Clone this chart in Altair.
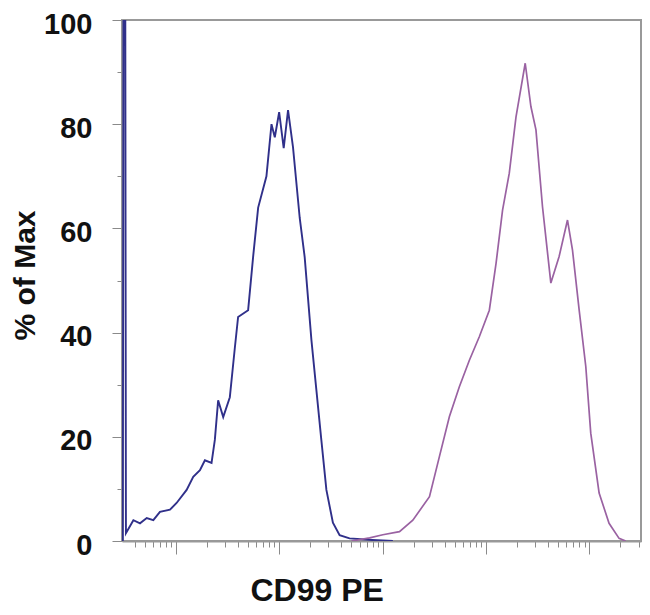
import math
import altair as alt
import pandas as pd

# Blue histogram (x in decade units, y in % of max)
blue_x = [-0.012, -0.006, 0.012, 0.018, 0.09, 0.154, 0.219, 0.283, 0.347, 0.444,
          0.508, 0.605, 0.669, 0.734, 0.782, 0.846, 0.878, 0.910, 0.959, 1.023,
          1.071, 1.103, 1.200, 1.248, 1.297, 1.377, 1.426, 1.458, 1.500, 1.544,
          1.586, 1.634, 1.699, 1.747, 1.812, 1.860, 1.908, 1.957, 2.020, 2.085,
          2.181, 2.4, 2.6]
blue_y = [0, 100, 100, 1.5, 4, 3.4, 4.4, 4.0, 5.6, 6.0,
          7.3, 9.8, 12.3, 13.6, 15.5, 15, 19.4, 27, 23.8, 27.6,
          37, 43, 44.3, 54.5, 64, 70, 80, 77.5, 82.3, 75.4,
          82.7, 75.6, 62, 54.5, 38.6, 29, 19.4, 9.8, 3.5, 1.1,
          0.5, 0.2, 0]

# Magenta histogram
mag_x = [2.2, 2.375, 2.503, 2.664, 2.793, 2.954, 3.050, 3.147, 3.243, 3.340,
         3.436, 3.533, 3.598, 3.661, 3.726, 3.791, 3.880, 3.935, 3.984, 4.047,
         4.128, 4.208, 4.289, 4.337, 4.402, 4.466, 4.514, 4.595, 4.691, 4.788,
         4.852]
mag_y = [0, 0.6, 1.2, 1.8, 4.0, 8.5, 16.2, 23.9, 29.6, 34.7,
         39.2, 44.3, 53.3, 63.5, 70.6, 81.4, 91.7, 83.4, 78.9, 64.2,
         49.5, 54.6, 61.6, 55.9, 44.3, 33.5, 20.7, 9.2, 3.4, 0.5,
         0]

# Axis ticks
x_major = [0.5, 1.5, 2.5, 3.5, 4.5]
x_minor_steps = [2, 3, 4, 5, 6, 7, 8, 9]
x_ticks = sorted(set(
    [v for v in x_major] +
    [round(m - 1 + math.log10(k), 4) for m in x_major for k in x_minor_steps
     if m - 1 + math.log10(k) > -0.02] +
    [round(4.5 + math.log10(k), 4) for k in x_minor_steps if 4.5 + math.log10(k) < 5.0]
))
y_ticks = [0, 10, 20, 30, 40, 50, 60, 70, 80, 90, 100]

blue_df = pd.DataFrame({"x": blue_x, "y": blue_y, "i": range(len(blue_x))})
mag_df = pd.DataFrame({"x": mag_x, "y": mag_y, "i": range(len(mag_x))})

FONT = "Liberation Sans"

x_axis = alt.Axis(
    values=x_ticks,
    labels=False,
    grid=False,
    title="CD99 PE",
    titleFont=FONT,
    titleFontSize=32,
    titleFontWeight="bold",
    titleColor="#111111",
    titleX=128,
    titleY=59,
    titleAlign="left",
    titleBaseline="alphabetic",
    tickColor="#8a8a8a",
    tickWidth=1,
    tickSize={"condition": {"test": "abs(datum.value - floor(datum.value) - 0.5) < 0.001",
                            "value": 13}, "value": 6},
    domainColor="#999999",
    domainWidth=2,
)

y_axis = alt.Axis(
    values=y_ticks,
    grid=False,
    labelExpr="datum.value % 20 == 0 ? datum.label : ''",
    labelFont=FONT,
    labelFontSize=29,
    labelFontWeight="bold",
    labelColor="#111111",
    labelPadding=20,
    labelBaseline="middle",
    labelOffset=4,
    title="% of Max",
    titleFont=FONT,
    titleFontSize=30,
    titleFontWeight="bold",
    titleColor="#111111",
    titleX=-97,
    titleY=255,
    titleBaseline="middle",
    tickColor="#8a8a8a",
    tickSize={"condition": {"test": "datum.value % 20 == 0", "value": 10}, "value": 5},
    domainColor="#999999",
    domainWidth=2,
)

x_scale = alt.Scale(domain=[-0.02, 5.0], nice=False, zero=False)
y_scale = alt.Scale(domain=[0, 100], nice=False)

blue = alt.Chart(blue_df).mark_line(color="#30308a", strokeWidth=1.9, clip=True).encode(
    x=alt.X("x:Q", scale=x_scale, axis=x_axis),
    y=alt.Y("y:Q", scale=y_scale, axis=y_axis),
    order="i:Q",
)

mag = alt.Chart(mag_df).mark_line(color="#9a62a2", strokeWidth=1.7, clip=True).encode(
    x=alt.X("x:Q", scale=x_scale, axis=x_axis),
    y=alt.Y("y:Q", scale=y_scale, axis=y_axis),
    order="i:Q",
)

chart = alt.layer(blue, mag).properties(
    width=519,
    height=521,
    autosize=alt.AutoSizeParams(type="none"),
    padding={"left": 114, "top": 12, "right": 1, "bottom": 66},
    background="white",
).configure_view(
    stroke="#999999",
    strokeWidth=2,
)

chart.save("out.html", embed_options={"renderer": "svg", "actions": False})
